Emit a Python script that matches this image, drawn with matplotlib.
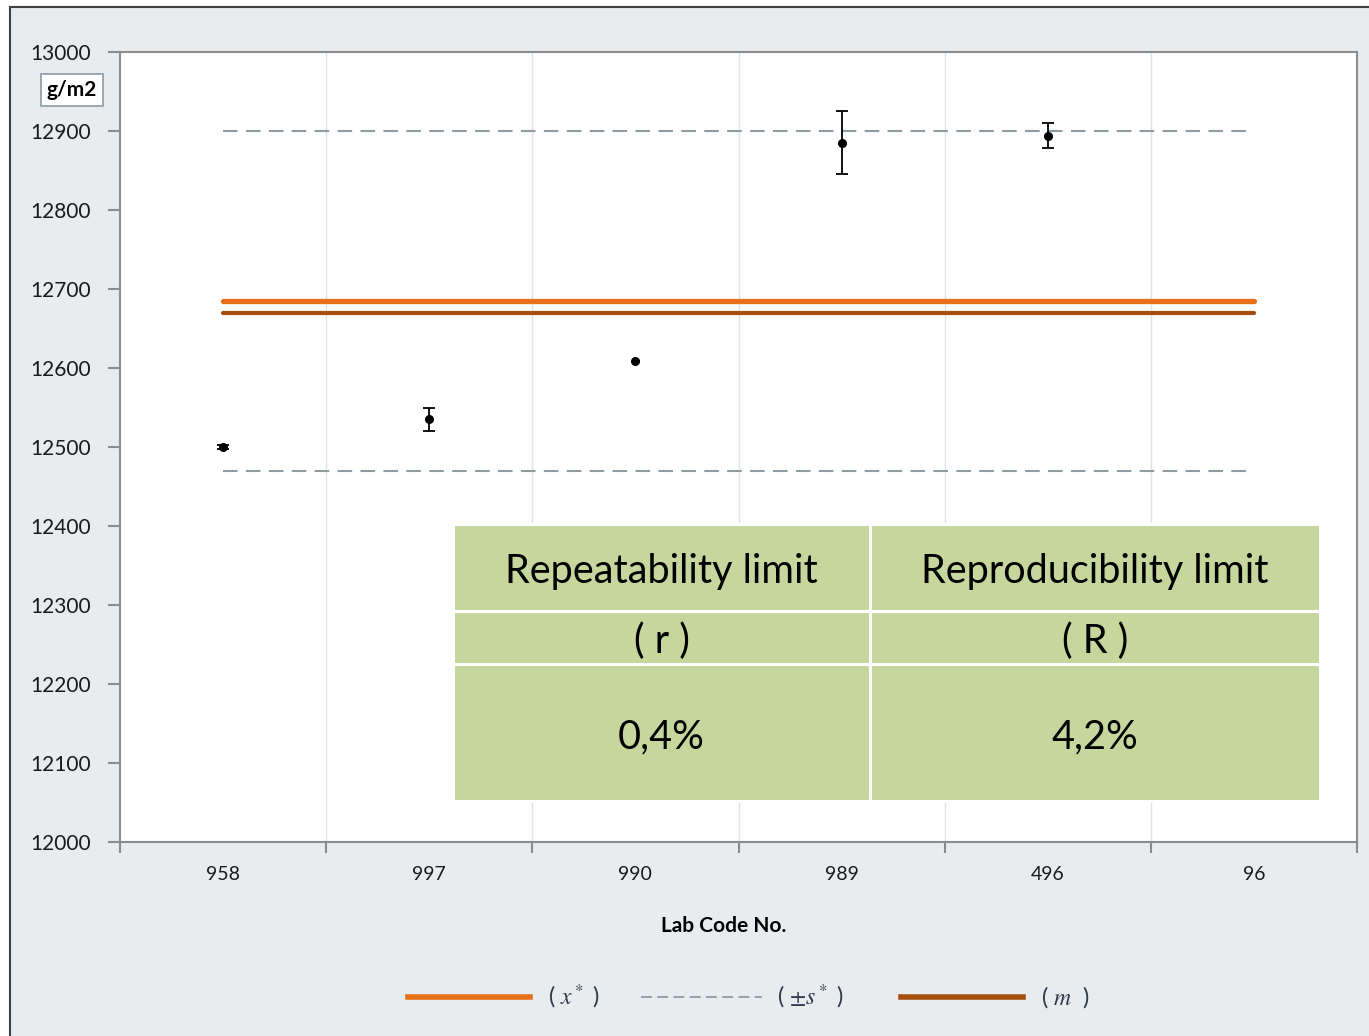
import matplotlib
matplotlib.use("Agg")
import matplotlib.pyplot as plt
from matplotlib.patches import Rectangle
from matplotlib.lines import Line2D
import numpy as np

plt.rcParams['font.family'] = ['Lato', 'DejaVu Sans']
plt.rcParams['mathtext.fontset'] = 'stix'

# Laboratory results
lab_codes = ["958", "997", "990", "989", "496", "96"]
lab_means = [12500, 12535, 12609, 12885, 12894, np.nan]
lab_sd = [2, 15, np.nan, 40, 16, np.nan]

# Reference statistics
x_star = 12685
s_star = 215
m_value = 12670

limit_headers = ["Repeatability limit", "Reproducibility limit"]
limit_symbols = ["( r )", "( R )"]
limit_values = ["0,4%", "4,2%"]

W, H = 1369, 1036
fig = plt.figure(figsize=(W / 100, H / 100), dpi=100)
fig.patch.set_facecolor("white")

bg = "#E9ECEF"
fig.add_artist(Rectangle((10 / W, -0.01), 1.0, 1 - 7 / H + 0.01,
                         transform=fig.transFigure, facecolor=bg,
                         edgecolor="#404040", linewidth=1.5, zorder=-10))

ax = fig.add_axes([120 / W, (H - 842) / H, 1237 / W, 790 / H])
ax.set_facecolor("white")

n = len(lab_codes)
xs = np.arange(n)
ax.set_xlim(-0.5, n - 0.5)
ax.set_ylim(12000, 13000)

# reference lines
ax.plot([xs[0], xs[-1]], [x_star + s_star] * 2, color="#8E9CA4", lw=1.5,
        dashes=(7, 4), zorder=2)
ax.plot([xs[0], xs[-1]], [x_star - s_star] * 2, color="#8E9CA4", lw=1.5,
        dashes=(7, 4), zorder=2)
ax.plot([xs[0], xs[-1]], [x_star] * 2, color="#E8701A", lw=3.8,
        solid_capstyle="round", zorder=3)
ax.plot([xs[0], xs[-1]], [m_value] * 2, color="#A64F0D", lw=3.0,
        solid_capstyle="round", zorder=3)

# lab means with standard deviations
ax.errorbar(xs, lab_means, yerr=lab_sd, fmt="o", color="black", ms=5.5,
            ecolor="black", elinewidth=1.3, capsize=4.5, capthick=1.3, zorder=5)

# axes styling
spine_c = "#8C8C8C"
for s in ax.spines.values():
    s.set_color(spine_c)
    s.set_linewidth(1.5)
ax.set_yticks(np.arange(12000, 13001, 100))
ax.set_yticklabels([str(v) for v in range(12000, 13001, 100)],
                   fontsize=15, color="#1a1a1a")
ax.tick_params(axis="y", direction="out", length=9, width=1.5, color=spine_c,
               pad=12)
ax.set_xticks(xs)
ax.set_xticklabels(lab_codes, fontsize=14, color="#1a1a1a")
ax.tick_params(axis="x", which="major", length=0, pad=17)
bounds = np.arange(-0.5, n, 1.0)
ax.set_xticks(bounds, minor=True)
ax.tick_params(axis="x", which="minor", direction="out", length=8, width=1.5,
               color=spine_c)
for b in bounds[1:-1]:
    ax.axvline(b, color="#DDE3EA", lw=1.0, zorder=0)

# limits table
tx0, tx1 = (453 - 120) / 1237, (1320 - 120) / 1237
colsplit = (870 - 120) / 1237
def yf(py):
    return (842 - py) / 790
rows = [(524, 611), (611, 664), (664, 801)]
green = "#C5D79D"
for ci, (cx0, cx1) in enumerate([(tx0, colsplit), (colsplit, tx1)]):
    texts = [limit_headers[ci], limit_symbols[ci], limit_values[ci]]
    for (py0, py1), t in zip(rows, texts):
        ax.add_patch(Rectangle((cx0, yf(py1)), cx1 - cx0, yf(py0) - yf(py1),
                               transform=ax.transAxes, facecolor=green,
                               edgecolor="white", lw=2.2, zorder=6,
                               clip_on=False))
        ax.text((cx0 + cx1) / 2, (yf(py0) + yf(py1)) / 2 - 4 / 790, t,
                transform=ax.transAxes, ha="center", va="center",
                fontsize=28.5, color="black", zorder=7)

# unit label
fig.text(72 / W, 1 - 90 / H, "g/m2", ha="center", va="center", fontsize=15,
         fontweight="bold", color="black",
         bbox=dict(boxstyle="square,pad=0.3", facecolor="white",
                   edgecolor="#8C9BA5", lw=1.2))

# axis title
fig.text(724 / W, 1 - 926 / H, "Lab Code No.", ha="center", va="center",
         fontsize=15, fontweight="bold", color="black")

# legend
ly = 1 - 997 / H
leg_c = "#2F3B4C"
fig.add_artist(Line2D([408 / W, 530 / W], [ly, ly], color="#E8701A", lw=4,
                      transform=fig.transFigure))
fig.text(548 / W, ly, r"( $x^*$ )", ha="left", va="center", fontsize=17,
         color=leg_c)
fig.add_artist(Line2D([641 / W, 762 / W], [ly, ly], color="#8E9CA4", lw=1.3,
                      dashes=(6, 3), transform=fig.transFigure))
fig.text(777 / W, ly, r"( $\pm s^*$ )", ha="left", va="center", fontsize=17,
         color=leg_c)
fig.add_artist(Line2D([901 / W, 1023 / W], [ly, ly], color="#A64F0D", lw=4,
                      transform=fig.transFigure))
fig.text(1041 / W, ly, r"( $m$  )", ha="left", va="center", fontsize=17,
         color=leg_c)

fig.savefig("out.png", dpi=100, facecolor=fig.get_facecolor())
